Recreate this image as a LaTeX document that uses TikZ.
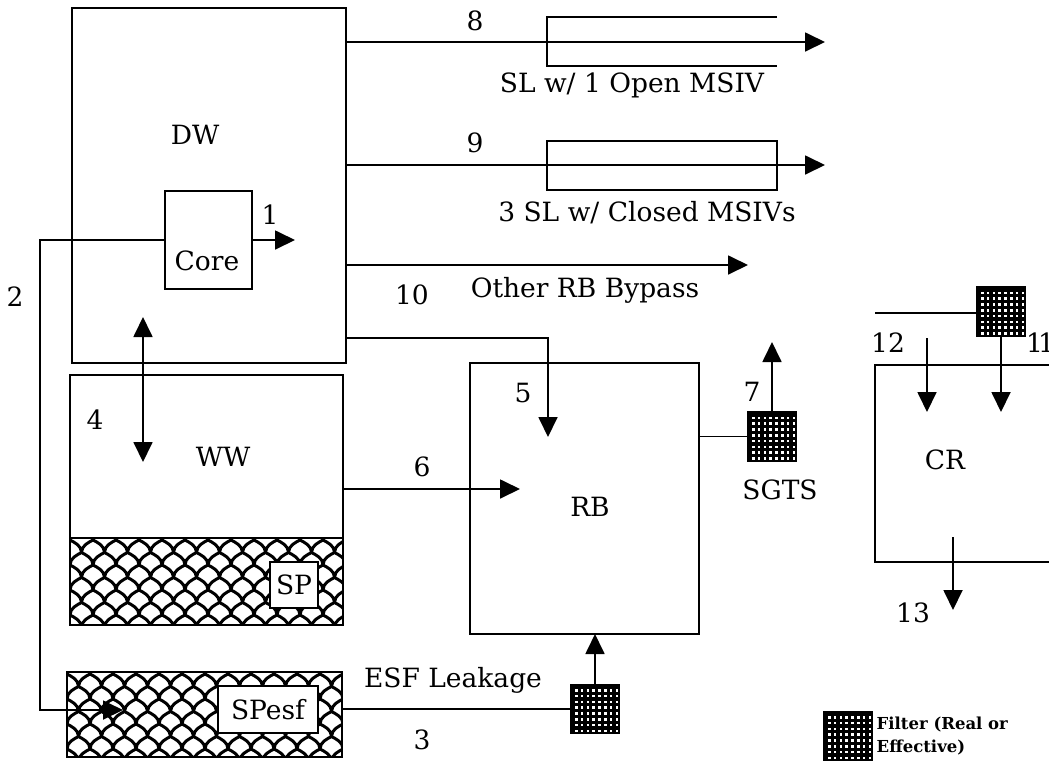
\documentclass[tikz,border=0pt]{standalone}
\usepackage{fontspec}
\setmainfont{DejaVu Serif}
\usetikzlibrary{arrows.meta,positioning,calc}

% fish-scale fill of a pool region
\newcommand{\scalefill}[4]{%
  \begin{scope}
    \clip (#1,#2) rectangle (#3,#4);
    \foreach \r in {0,...,8} {
      \pgfmathsetmacro{\yy}{#2+2+\r*12.5}
      \pgfmathsetmacro{\xo}{#1-23+mod(\r,2)*11.5}
      \foreach \c in {0,...,13}
        \draw[scaleline] (\xo+\c*23,\yy)
          .. controls (\xo+\c*23,\yy-7) and (\xo+\c*23+7,\yy-10) .. (\xo+\c*23+11.5,\yy-12.5)
          .. controls (\xo+\c*23+16,\yy-10) and (\xo+\c*23+23,\yy-7) .. (\xo+\c*23+23,\yy);
    }
  \end{scope}}

\begin{document}
\begin{tikzpicture}[x=1pt, y=-1pt,
  box/.style={draw, line width=1.8pt, outer sep=0pt, inner sep=0pt},
  tag/.style={draw, fill=white, line width=1.3pt, outer sep=0pt, inner sep=0pt,
    font=\fontsize{26.5}{30}\selectfont},
  filter/.style={draw, fill=black, line width=1.5pt, outer sep=0pt, inner sep=0pt,
    minimum size=49pt,
    path picture={
      \foreach \i in {0,...,7} \foreach \j in {0,...,7}
        \fill[white] ($(path picture bounding box.north west)+(4.5+\i*5.8,4.5+\j*5.8)$)
          rectangle ++(2.6,2.6);
    }},
  lbl/.style={font=\fontsize{26.5}{30}\selectfont, inner sep=0pt},
  link/.style={line width=1.8pt},
  arr/.style={-{Triangle[length=20pt,width=19pt]}, line width=1.8pt},
  dblarr/.style={{Triangle[length=20pt,width=19pt]}-{Triangle[length=20pt,width=19pt]},
    line width=1.8pt},
  scaleline/.style={line width=3pt}
]
  \useasboundingbox (0,0) rectangle (1049,764);

  % suppression pools
  \scalefill{70}{538}{343}{625}
  \scalefill{67}{672}{342}{757}

  % volumes
  \node[box, minimum width=274pt, minimum height=355pt] (dw) at (209,185.5) {};
  \node[box, minimum width=87pt, minimum height=98pt] (core) at (208.5,240) {};
  \node[box, minimum width=273pt, minimum height=250pt] (ww) at (206.5,500) {};
  \node[box, minimum width=275pt, minimum height=85pt] (spesf) at (204.5,714.5) {};
  \node[box, minimum width=229pt, minimum height=271pt] (rb) at (584.5,498.5) {};
  \node[box, minimum width=200pt, minimum height=197pt] (cr) at (975,463.5) {};

  \coordinate (spline) at (0,538);
  \draw[link] (ww.west |- spline) -- (ww.east |- spline);

  \node[tag, minimum width=48pt, minimum height=46pt] (sp) at (294,585) {SP};
  \node[tag, minimum width=100pt, minimum height=47pt] (spesflbl) at (268,709.5) {SPesf};

  % filters
  \node[filter] (sgts) at (772,436.5) {};
  \node[filter] (esf) at (595,709) {};
  \node[filter] (crf) at (1001,311.5) {};
  \node[filter] (key) at (848,736) {};
  \node[anchor=west, inner sep=0pt, align=left,
    font=\bfseries\fontsize{16.5}{23}\selectfont] (keytxt) at ([xshift=4pt]key.east)
    {Filter (Real or\\Effective)};

  % steam lines
  \draw[line width=1.5pt] (777,17) -- (547,17) -- (547,66) -- (777,66);
  \node[box, line width=1.5pt, minimum width=230pt, minimum height=49pt] (pipe9) at (662,165.5) {};

  % flow paths
  \coordinate (out8) at (825,42);
  \coordinate (out9) at (825,165);
  \coordinate (out10) at (748,265);
  \coordinate (tap5) at (0,338);
  \coordinate (in5) at (548,437);
  \coordinate (in6) at (520,489);
  \coordinate (out1) at (295,240);
  \coordinate (in2) at (123,710);
  \coordinate (top4) at (143,317);
  \coordinate (bot4) at (143,462);
  \coordinate (out7) at (772,342);
  \coordinate (crin) at (875,313);
  \coordinate (in11) at (1001,412);
  \coordinate (from12) at (927,338);
  \coordinate (in12) at (927,412);
  \coordinate (from13) at (953,537);
  \coordinate (out13) at (953,610);

  \draw[arr] (dw.east |- out8) -- (out8);
  \draw[arr] (dw.east |- out9) -- (out9);
  \draw[arr] (dw.east |- out10) -- (out10);
  \draw[arr] (dw.east |- tap5) -| (in5);
  \draw[arr] (ww.east |- in6) -- (in6);
  \draw[arr] (core.east) -- (out1);
  \draw[arr] (core.west) -- ++(-125,0) |- (in2);
  \draw[dblarr] (top4) -- (bot4);
  \draw[link] (spesf.east |- esf.west) -- (esf.west);
  \draw[arr] (esf.north) -- (esf.north |- rb.south);
  \draw[link] (rb.east |- sgts.west) -- (sgts.west);
  \draw[arr] (sgts.north) -- (out7);
  \draw[link] (crin) -- (crin -| crf.west);
  \draw[arr] (crf.south) -- (in11);
  \draw[arr] (from12) -- (in12);
  \draw[arr] (from13) -- (out13);

  % labels
  \node[lbl] (dwlbl) at (195,135) {DW};
  \node[lbl] (corelbl) at (207,261) {Core};
  \node[lbl] (wwlbl) at (223,457) {WW};
  \node[lbl] (rblbl) at (590,507) {RB};
  \node[lbl] (crlbl) at (945,460) {CR};
  \node[lbl] (sgtslbl) at (780,490) {SGTS};
  \node[lbl] (esflbl) at (453,680) {ESF Leakage};
  \node[lbl] (sl8lbl) at (632,85) {SL w/ 1 Open MSIV};
  \node[lbl] (sl9lbl) at (647,213) {3 SL w/ Closed MSIVs};
  \node[lbl] (bypasslbl) at (585,290) {Other RB Bypass};
  \node[lbl] (n1) at (270,215) {1};
  \node[lbl] (n2) at (15,297) {2};
  \node[lbl] (n3) at (422,740) {3};
  \node[lbl] (n4) at (95,420) {4};
  \node[lbl] (n5) at (523,393) {5};
  \node[lbl] (n6) at (422,467) {6};
  \node[lbl] (n7) at (752,392) {7};
  \node[lbl] (n8) at (475,21) {8};
  \node[lbl] (n9) at (475,143) {9};
  \node[lbl] (n10) at (412,295) {10};
  \node[lbl, anchor=west] (n11) at (1026,343) {1\kern-5pt1};
  \node[lbl] (n12) at (888,343) {12};
  \node[lbl] (n13) at (913,613) {13};
\end{tikzpicture}
\end{document}
